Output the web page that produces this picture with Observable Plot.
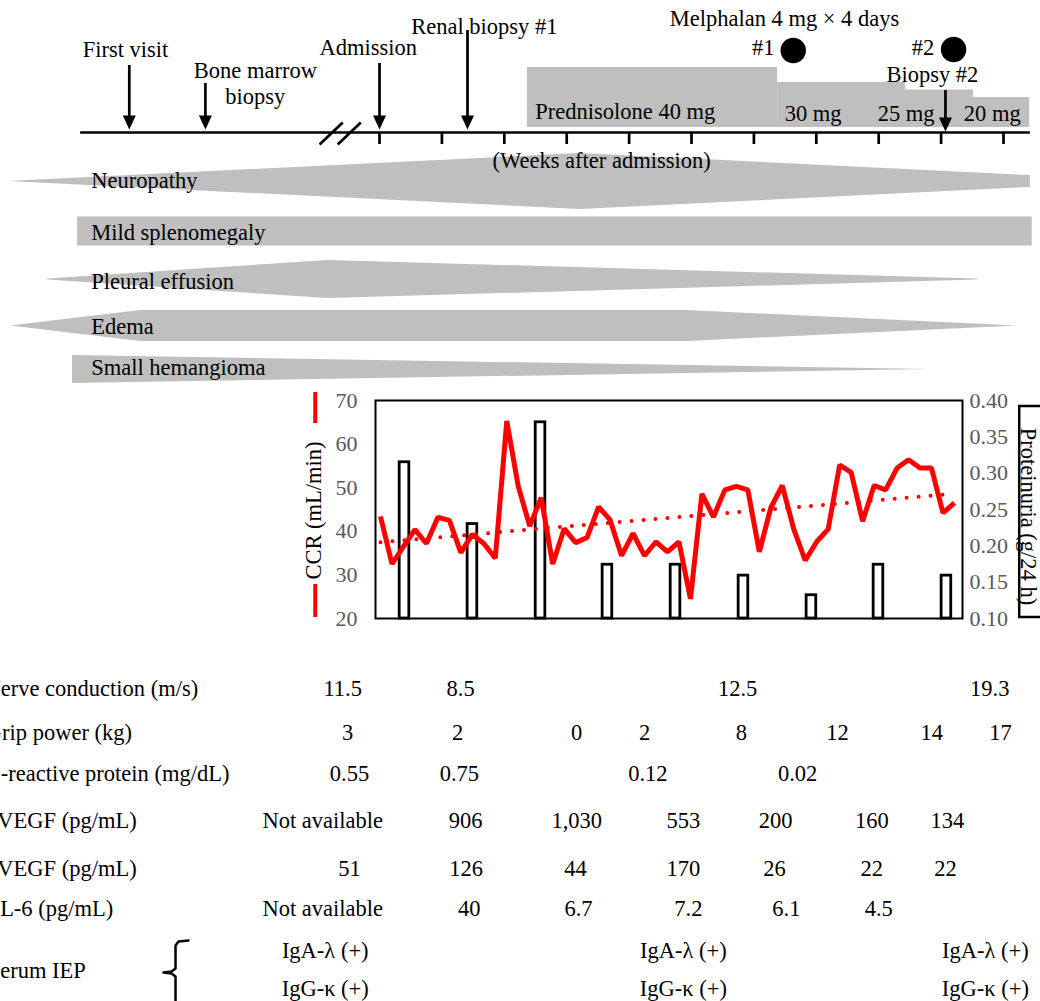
<!DOCTYPE html>
<html><head><meta charset="utf-8">
<script src="https://cdn.jsdelivr.net/npm/d3@7"></script>
<script src="https://cdn.jsdelivr.net/npm/@observablehq/plot@0.6"></script>
<style>
body{margin:0;background:#fff;}
#wrap{position:relative;width:1040px;height:1001px;overflow:hidden;background:#fff;}
</style></head><body><div id="wrap"></div>
<script>
// ================= DATA =================
// Timeline (x = weeks after admission; pre-admission events sit on the broken part of the axis)
const eventNames = ["First visit", "Bone marrow\nbiopsy", "Admission", "Renal biopsy #1", "Biopsy #2"];
const eventWeeks = [-4.01, -2.79, 0, 1.41, 9.07];
const weekTicks = [0, 1, 2, 3, 4, 5, 6, 7, 8, 9, 10];
const melphalanCycles = ["#1", "#2"];
const melphalanWeeks = [6.63, 9.20];
const prednisoloneLabels = ["Prednisolone 40 mg", "30 mg", "25 mg", "20 mg"];
const prednisoloneDose = [40, 30, 25, 20];            // mg
const prednisoloneStart = [2.37, 6.38, 8.43, 9.52];   // weeks
const prednisoloneEnd = [6.38, 8.43, 9.52, 10.42];    // weeks

// Symptom courses (relative intensity 0..1 at given weeks)
const symptoms = ["Neuropathy", "Mild splenomegaly", "Pleural effusion", "Edema", "Small hemangioma"];
const symptomWeeks = [[-5.95, 3.22, 10.43], [-4.84, 10.46], [-5.32, -0.83, 9.58], [-5.91, -3.83, 4.94, 10.22], [-4.92, 8.83]];
const symptomIntensity = [[0, 1, 0.21], [0.52, 0.52], [0.02, 0.68, 0.02], [0, 0.55, 0.55, 0], [0.5, 0]];

// CCR (mL/min), one value per measurement
const ccr = [43.4, 32.5, 36.5, 40.4, 37.2, 43.2, 42.5, 35.1, 39.3, 37.2, 33.8, 65.3, 50.3, 41.2, 47.7, 32.5,
  40.6, 37.4, 38.6, 45.6, 42.6, 34.4, 39.5, 34.4, 37.6, 35.3, 37.6, 24.5, 48.6, 43.3, 49.5, 50.3, 49.5, 35.3,
  45.4, 50.5, 40.5, 33.3, 37.6, 40.5, 55.2, 53.5, 42.3, 50.5, 49.5, 54.5, 56.4, 54.5, 54.5, 44.2, 46.5];
const ccrTrendAt = [0, 50];          // measurement index
const ccrTrend = [37.5, 48.6];       // mL/min
const ccrTicks = [20, 30, 40, 50, 60, 70];
// Proteinuria (g/24 h) and the measurement index at which it was taken
const proteinuriaAt = [2.09, 8.01, 13.94, 19.77, 25.70, 31.62, 37.54, 43.38, 49.30];
const proteinuria = [0.315, 0.23, 0.37, 0.174, 0.174, 0.159, 0.132, 0.174, 0.159];
const proteinuriaTicks = [0.10, 0.15, 0.20, 0.25, 0.30, 0.35, 0.40];

// Table
const rowLabels = ["Nerve conduction (m/s)", "Grip power (kg)", "C-reactive protein (mg/dL)", "VEGF (pg/mL)", "VEGF (pg/mL)", "IL-6 (pg/mL)"];
const nerveConduction = ["11.5", "8.5", "12.5", "19.3"];
const nerveWeeks = [-0.59, 1.30, 5.74, 9.78];
const gripPower = ["3", "2", "0", "2", "8", "12", "14", "17"];
const gripWeeks = [-0.51, 1.25, 3.16, 4.25, 5.80, 7.34, 8.85, 9.95];
const crp = ["0.55", "0.75", "0.12", "0.02"];
const crpWeeks = [-0.48, 1.28, 4.30, 6.70];
const vegfA = ["Not available", "906", "1,030", "553", "200", "160", "134"];
const vegfAWeeks = [-0.91, 1.38, 3.16, 4.87, 6.35, 7.89, 9.10];
const vegfB = ["51", "126", "44", "170", "26", "22", "22"];
const vegfBWeeks = [-0.48, 1.39, 3.14, 4.87, 6.33, 7.89, 9.07];
const il6 = ["Not available", "40", "6.7", "7.2", "6.1", "4.5"];
const il6Weeks = [-0.91, 1.44, 3.19, 4.95, 6.52, 8.00];
const iepLabel = "Serum IEP";
const iepA = ["IgA-λ (+)", "IgA-λ (+)", "IgA-λ (+)"];
const iepG = ["IgG-κ (+)", "IgG-κ (+)", "IgG-κ (+)"];
const iepWeeks = [-0.87, 4.87, 9.71];

// ================= LAYOUT / STYLE =================
const W = 1040, H = 1001;
const grey = "#bfbfbf", red = "#ff0000", tickGrey = "#595959";
const FS = 22.5, TFS = 22;
const font = "'Liberation Serif', 'Times New Roman', serif";
const style = {position: "absolute", left: "0px", top: "0px", background: "transparent", fontFamily: font, overflow: "hidden"};
const weekScale = {domain: [-6.074, 10.593], range: [0, W], axis: null};
const layoutY = {domain: [0, H], range: [0, H], axis: null};
const axisY0 = 132;
const shaftTop = [65, 83, 63, 30, 90];
const headTip = [129, 129, 129, 129, 131];
const eventLabelX = [-4.07, -1.99, -0.18, 1.68, 8.86];
const eventLabelY = [48, 82.5, 46, 25, 73];
const laneY = [181, 231, 279, 325.5, 369];
const laneHalf = 28;
const rowY = [688, 732, 773, 820, 868, 908];
const rowLabelX = [-6.33, -6.31, -6.31, -6.125, -6.125, -6.20];
const rowValues = [nerveConduction, gripPower, crp, vegfA, vegfB, il6];
const rowWeeks = [nerveWeeks, gripWeeks, crpWeeks, vegfAWeeks, vegfBWeeks, il6Weeks];

const arrowHead = {draw(ctx) { ctx.moveTo(-6.5, -14); ctx.lineTo(6.5, -14); ctx.lineTo(0, 0); ctx.closePath(); }};

const events = eventNames.map((name, i) => ({name, week: eventWeeks[i], top: shaftTop[i], tip: headTip[i], lx: eventLabelX[i], ly: eventLabelY[i]}));

const bracePts = [[-3.061, 940], [-3.221, 941], [-3.269, 945], [-3.269, 968], [-3.333, 971], [-3.462, 972], [-3.333, 973], [-3.269, 976], [-3.269, 1010]];

const wrap = document.getElementById("wrap");

// ---- P2: prednisolone steps (dose scale) ----
const pred = prednisoloneDose.map((dose, i) => ({dose, start: prednisoloneStart[i], end: prednisoloneEnd[i]}));
const P2 = Plot.plot({
  width: W, height: H, marginTop: 0, marginBottom: H - 127, marginLeft: 0, marginRight: 0, style,
  x: weekScale, y: {domain: [0, 84.67], axis: null},
  marks: [Plot.rect(pred, {x1: "start", x2: "end", y1: 0, y2: "dose", fill: grey})]
});

// ---- P1: timeline, symptoms, table ----
const bandMarks = symptoms.map((s, k) => Plot.area(
  symptomWeeks[k].map((w, j) => ({w, v: symptomIntensity[k][j]})),
  {x1: "w", y1: d => laneY[k] - d.v * laneHalf, y2: d => laneY[k] + d.v * laneHalf, fill: grey, curve: "linear"}
));
const tableMarks = rowLabels.map((lab, r) => Plot.text(rowValues[r], {
  x: (d, i) => rowWeeks[r][i], y: rowY[r], text: d => d, fontSize: FS, textAnchor: "middle", fill: "black"
}));

const P1 = Plot.plot({
  width: W, height: H, margin: 0, style,
  x: weekScale, y: layoutY,
  marks: [
    ...bandMarks,
    Plot.text(symptoms, {x: -4.62, y: [180, 232, 281, 326, 367], text: d => d, textAnchor: "start", fontSize: FS, fill: "black"}),
    // timeline axis
    Plot.ruleY([axisY0], {x1: -4.79, x2: 10.43, stroke: "black", strokeWidth: 2.7}),
    Plot.ruleX(weekTicks, {x: d => d, y1: axisY0, y2: 144, stroke: "black", strokeWidth: 2.7}),
    Plot.link([[-0.96, -0.59], [-0.67, -0.30]], {x1: d => d[0], x2: d => d[1], y1: 144, y2: 122, stroke: "black", strokeWidth: 2.7}),
    // event arrows
    Plot.ruleX(events, {x: "week", y1: "top", y2: d => d.tip - 12, stroke: "black", strokeWidth: 2.7}),
    Plot.dot(events, {x: "week", y: "tip", symbol: arrowHead, r: 5, fill: "black", stroke: "none"}),
    Plot.text(events, {x: "lx", y: "ly", text: "name", fontSize: FS, lineHeight: 1.12, textAnchor: "middle", fill: "black"}),
    // melphalan
    Plot.text(["Melphalan 4 mg × 4 days"], {x: 6.49, y: 18, fontSize: FS, fill: "black"}),
    Plot.text(melphalanCycles, {x: [6.15, 8.71], y: 47, text: d => d, fontSize: FS, fill: "black"}),
    Plot.dot(melphalanWeeks, {x: d => d, y: [50, 49], r: 12.7, fill: "black", stroke: "none"}),
    // prednisolone labels
    Plot.text(prednisoloneLabels, {x: [3.94, 6.95, 8.44, 9.82], y: [111, 113, 113, 113], text: d => d, fontSize: FS, fill: "black"}),
    Plot.text(["(Weeks after admission)"], {x: 3.56, y: 160, fontSize: FS, fill: "black"}),
    // CCR / proteinuria axis titles
    Plot.ruleX([-1.03], {y1: 392, y2: 423, stroke: red, strokeWidth: 4}),
    Plot.ruleX([-1.03], {y1: 584, y2: 617, stroke: red, strokeWidth: 4}),
    Plot.text(["CCR (mL/min)"], {x: -1.06, y: 510, rotate: -90, fontSize: FS, fill: "black"}),
    Plot.rect([0], {x1: 10.26, x2: 10.95, y1: 406, y2: 617, fill: "white", stroke: "black", strokeWidth: 2.5}),
    Plot.text(["Proteinuria (g/24 h)"], {x: 10.40, y: 516, rotate: 90, fontSize: FS, fill: "black"}),
    // table
    Plot.text(rowLabels, {x: (d, i) => rowLabelX[i], y: (d, i) => rowY[i], text: d => d, textAnchor: "start", fontSize: FS, fill: "black"}),
    ...tableMarks,
    Plot.text([iepLabel], {x: -6.28, y: 970, textAnchor: "start", fontSize: FS, fill: "black"}),
    Plot.text(iepA, {x: (d, i) => iepWeeks[i], y: 950, text: d => d, fontSize: FS, fill: "black"}),
    Plot.text(iepG, {x: (d, i) => iepWeeks[i], y: 988, text: d => d, fontSize: FS, fill: "black"}),
    Plot.line(bracePts, {x: d => d[0], y: d => d[1], stroke: "black", strokeWidth: 2.5, curve: "linear"})
  ]
});

// ---- Lower chart geometry ----
const chartMargins = {marginLeft: 375, marginRight: W - 962, marginTop: 400, marginBottom: H - 618};
const idxScale = {domain: [-0.436, 50.70], axis: null};

// ---- P4: proteinuria bars + right axis ----
const prot = proteinuria.map((v, i) => ({v, at: proteinuriaAt[i]}));
const P4 = Plot.plot({
  width: W, height: H, ...chartMargins, style,
  x: idxScale, y: {domain: [0.10, 0.40], axis: null},
  marks: [
    Plot.axisY({anchor: "right", ticks: proteinuriaTicks, tickFormat: d3.format(".2f"), tickSize: 0, tickPadding: 7, fontSize: TFS, color: tickGrey, label: null}),
    Plot.rect(prot, {x1: d => d.at - 0.42, x2: d => d.at + 0.42, y1: 0.10, y2: "v", fill: "white", stroke: "black", strokeWidth: 2.8})
  ]
});

// ---- P3: CCR line + left axis ----
const trend = ccrTrendAt.map((x, i) => ({x, y: ccrTrend[i]}));
const P3 = Plot.plot({
  width: W, height: H, ...chartMargins, style,
  x: idxScale, y: {domain: [20, 70], axis: null},
  marks: [
    Plot.axisY({ticks: ccrTicks, tickSize: 0, tickPadding: 18, fontSize: TFS, color: tickGrey, label: null}),
    Plot.line(trend, {x: "x", y: "y", stroke: red, strokeWidth: 4, strokeDasharray: "0 12", strokeLinecap: "round"}),
    Plot.line(ccr, {x: (d, i) => i, y: d => d, stroke: red, strokeWidth: 5, strokeLinejoin: "miter", strokeLinecap: "butt"}),
    Plot.frame({stroke: "black", strokeWidth: 2})
  ]
});

wrap.append(P2, P1, P4, P3);
</script></body></html>
